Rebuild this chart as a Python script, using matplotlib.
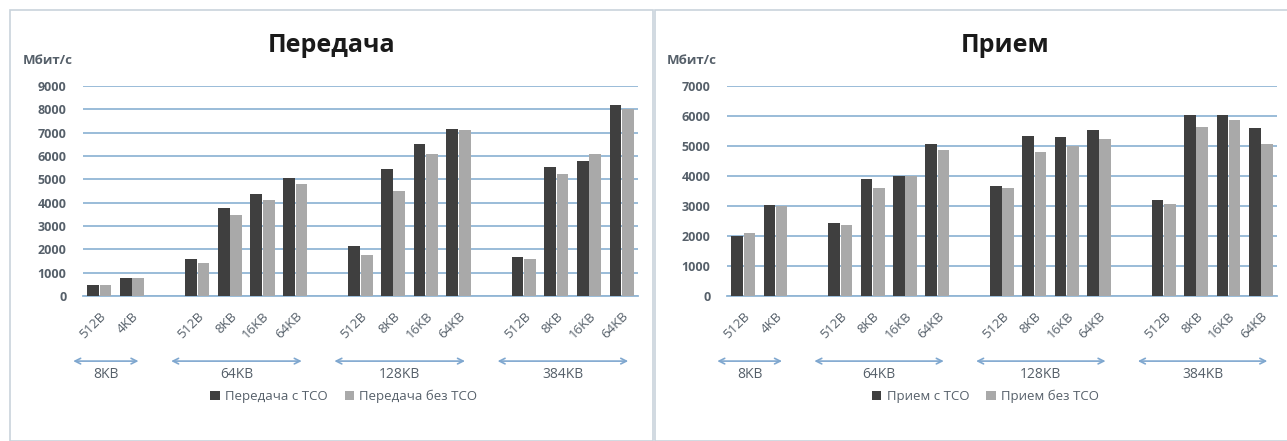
import matplotlib.pyplot as plt
from matplotlib.patches import Rectangle
import matplotlib.transforms as mtransforms

plt.rcParams['font.family'] = ['Open Sans', 'DejaVu Sans']

# buffer sizes per group, message sizes inside each group
groups = ['8KB', '64KB', '128KB', '384KB']
sizes = [['512B', '4KB'],
         ['512B', '8KB', '16KB', '64KB'],
         ['512B', '8KB', '16KB', '64KB'],
         ['512B', '8KB', '16KB', '64KB']]

# throughput, Mbit/s
tx_tco = [490, 770, 1570, 3760, 4390, 5070, 2140, 5460, 6500, 7140, 1660, 5530, 5800, 8170]
tx_no_tco = [480, 760, 1430, 3460, 4130, 4810, 1740, 4500, 6070, 7100, 1590, 5240, 6070, 8030]
rx_tco = [2010, 3040, 2430, 3890, 4010, 5060, 3670, 5330, 5290, 5530, 3190, 6020, 6020, 5600]
rx_no_tco = [2110, 2990, 2360, 3600, 4000, 4880, 3600, 4800, 5000, 5240, 3080, 5630, 5880, 5060]

DARK = '#3f3f3f'
LIGHT = '#a9a9a9'
GRID = '#92b6d5'
TXT = '#56606a'

# slot positions: one empty slot between groups
pos, labels, spans = [], [], []
slot = 0
for g, s in zip(groups, sizes):
    start = slot
    for lab in s:
        pos.append(slot)
        labels.append(lab)
        slot += 1
    spans.append((start, slot - 1))
    slot += 1
nslots = slot - 1

fig = plt.figure(figsize=(12.87, 4.41), dpi=100)
W, H = 1287, 441

# panel frames
fig.patches.append(Rectangle((10 / W, 0), 643 / W, 1 - 10 / H, transform=fig.transFigure,
                             fill=False, edgecolor='#c9d3dc', lw=1.2))
fig.patches.append(Rectangle((655 / W, 0), 640 / W, 1 - 10 / H, transform=fig.transFigure,
                             fill=False, edgecolor='#c9d3dc', lw=1.2))


def panel(rect, title, a, b, ymax, leg_a, leg_b, title_x):
    ax = fig.add_axes(rect)
    w = 0.36
    ax.bar([p - 0.19 for p in pos], a, width=w, color=DARK, label=leg_a, zorder=3)
    ax.bar([p + 0.19 for p in pos], b, width=w, color=LIGHT, label=leg_b, zorder=3)
    ax.set_xlim(-0.5, nslots - 0.5)
    ax.set_ylim(0, ymax)
    ax.set_yticks(range(0, ymax + 1, 1000))
    ax.yaxis.grid(True, color=GRID, lw=1.3)
    ax.set_axisbelow(True)
    for sp in ['top', 'right', 'left']:
        ax.spines[sp].set_visible(False)
    ax.spines['bottom'].set_color(GRID)
    ax.spines['bottom'].set_linewidth(1.3)
    ax.tick_params(axis='both', length=0)
    ax.tick_params(axis='y', pad=12, labelsize=9, labelcolor=TXT)
    for t in ax.get_yticklabels():
        t.set_fontweight('bold')
    ax.set_xticks(pos)
    ax.set_xticklabels(labels, rotation=45, ha='right', rotation_mode='anchor',
                       fontsize=9.5, color=TXT)
    ax.tick_params(axis='x', pad=10)

    # group arrows and names under the tick labels
    tr = mtransforms.blended_transform_factory(ax.transData, ax.transAxes)
    for (s0, s1), g in zip(spans, groups):
        x0, x1 = s0 - 0.8, s1 + 0.2
        ax.annotate('', xy=(x0, -0.31), xytext=(x1, -0.31), xycoords=tr, textcoords=tr,
                    arrowprops=dict(arrowstyle='<->', color='#7fa7cf', lw=1.2,
                                    shrinkA=0, shrinkB=0), annotation_clip=False)
        ax.text((x0 + x1) / 2, -0.375, g, transform=tr, ha='center', va='center',
                fontsize=10, color=TXT)

    fig.text(title_x, 1 - 46 / H, title, ha='center', va='center',
             fontsize=18, fontweight='bold', color='#1a1a1a')
    fig.text(rect[0] - 60 / W, 1 - 60 / H, 'Мбит/с', ha='left', va='center',
             fontsize=9.5, fontweight='bold', color=TXT)
    ax.legend(loc='center', bbox_to_anchor=(0.47, -0.48), ncol=2, frameon=False,
              fontsize=9.5, handlelength=0.7, handleheight=0.7, columnspacing=1.3,
              handletextpad=0.4, labelcolor=TXT)
    return ax


panel([83 / W, 1 - 296 / H, 555 / W, 210 / H], 'Передача', tx_tco, tx_no_tco, 9000,
      'Передача с TCO', 'Передача без TCO', 332 / W)
panel([727 / W, 1 - 296 / H, 550 / W, 210 / H], 'Прием', rx_tco, rx_no_tco, 7000,
      'Прием с TCO', 'Прием без TCO', 1005 / W)

fig.savefig('out.png', dpi=100)
